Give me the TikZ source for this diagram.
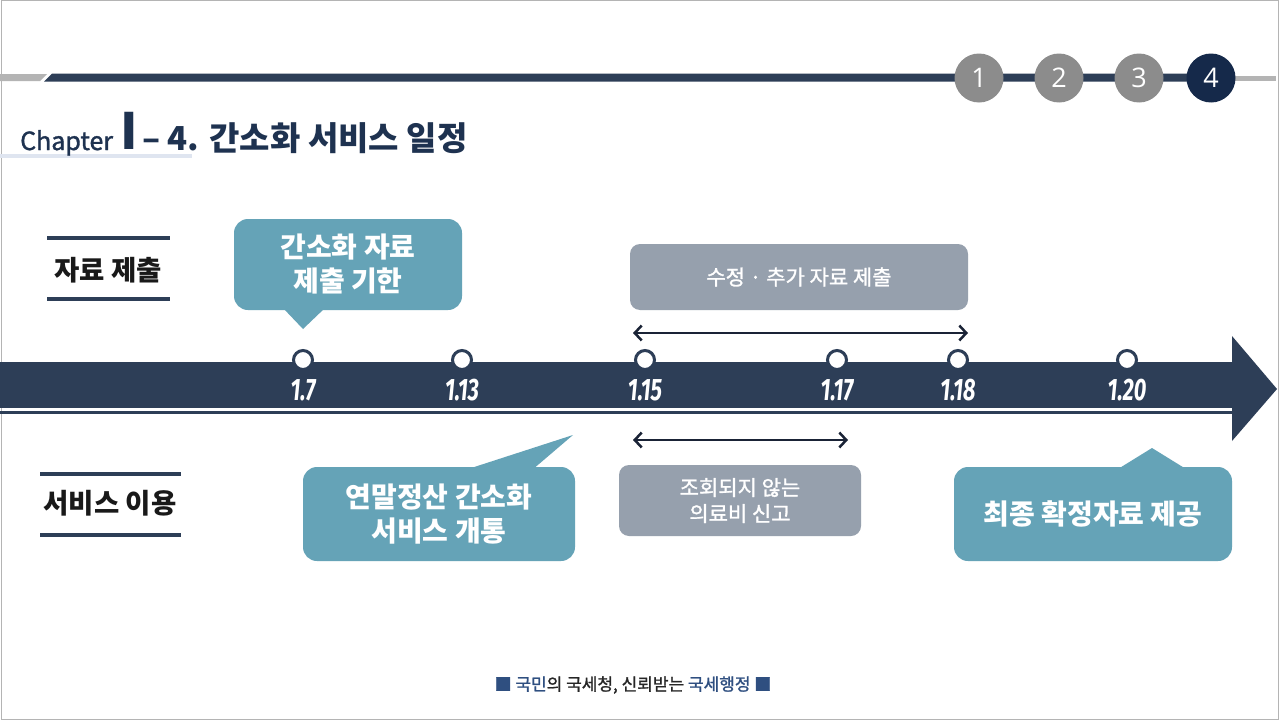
\documentclass[tikz,border=0pt]{standalone}
\usepackage{fontspec}
\setmainfont{Noto Sans CJK KR}
\newfontfamily\krfont{Noto Sans CJK KR}
\newfontfamily\krmed{Noto Sans CJK KR}[FakeBold=1.3]
\newfontfamily\numfont{Open Sans}
\newfontfamily\datefont{Fira Sans}
\usetikzlibrary{arrows.meta}
\definecolor{navy}{HTML}{1E3250}
\definecolor{barnavy}{HTML}{2D3E57}
\definecolor{darknavy}{HTML}{15294A}
\definecolor{teal}{HTML}{65A3B7}
\definecolor{boxgrey}{HTML}{96A0AD}
\definecolor{circgrey}{HTML}{8C8C8C}
\definecolor{framegrey}{HTML}{B4B4B4}
\definecolor{underl}{HTML}{DFE5F0}
\definecolor{footblue}{HTML}{2F4F80}
\definecolor{arrnavy}{HTML}{1A2336}
\tikzset{
  stepcirc/.style={circle, minimum size=49pt, inner sep=0pt, text=white, font=\numfont\fontsize{27}{27}\selectfont},
  sidelabel/.style={font=\krfont\bfseries\fontsize{27.5}{30}\selectfont, text=black!90, inner sep=0pt},
  sideline/.style={draw=barnavy, line width=4pt},
  callout/.style={fill=teal, rounded corners=14pt, text=white, align=center, inner sep=0pt, font=\krfont\bfseries\fontsize{28}{34}\selectfont},
  greybox/.style={fill=boxgrey, rounded corners=10pt, text=white, align=center, inner sep=0pt, font=\krmed\fontsize{21}{26}\selectfont},
  dot/.style={circle, draw=barnavy, fill=white, line width=3pt, minimum size=19pt, inner sep=0pt},
  datelabel/.style={text=white, inner sep=0pt, font=\datefont\bfseries\itshape\fontsize{31}{31}\selectfont},
  span/.style={draw=arrnavy, line width=2.5pt, {Straight Barb[length=7pt,width=15pt]}-{Straight Barb[length=7pt,width=15pt]}}
}
\newcommand{\dlab}[1]{\scalebox{0.7}[1]{#1}}
\begin{document}
\begin{tikzpicture}[x=1pt,y=-1pt]
\useasboundingbox (0,0) rectangle (1280,720);
\fill[white] (0,0) rectangle (1280,720);
\draw[framegrey, line width=1.5pt] (1.5,0.5) rectangle (1278.5,719.5);
% top rule
\fill[framegrey] (0,74) -- (47,74) -- (40,81) -- (0,81) -- cycle;
\fill[barnavy] (52,73.5) -- (1215,73.5) -- (1215,81.5) -- (44,81.5) -- cycle;
\fill[framegrey] (1215,75.5) rectangle (1276,81);
\node[stepcirc, fill=circgrey] (s1) at (979,78) {1};
\node[stepcirc, fill=circgrey] (s2) at (1059,78) {2};
\node[stepcirc, fill=circgrey] (s3) at (1139,78) {3};
\node[stepcirc, fill=darknavy] (s4) at (1211,78) {4};
% title
\fill[underl] (0,154) rectangle (192,158);
\node[anchor=base west, inner sep=0pt, text=navy, font=\krmed\fontsize{25}{25}\selectfont] (chap) at (20,150) {Chapter};
\node[anchor=base west, inner sep=0pt, text=navy, font=\krfont\bfseries\fontsize{50}{50}\selectfont] (roman) at (120,149) {I};
\node[anchor=base west, inner sep=0pt, text=navy, font=\krfont\bfseries\fontsize{33}{33}\selectfont] (title) at (142,150) {– 4. 간소화 서비스 일정};
% side labels
\node[sidelabel] (lab1) at (108,270) {자료 제출};
\draw[sideline] (47,238) -- (170,238);
\draw[sideline] (47,299) -- (170,299);
\node[sidelabel] (lab2) at (110,503) {서비스 이용};
\draw[sideline] (40,474) -- (181,474);
\draw[sideline] (40,535) -- (181,535);
% timeline
\fill[barnavy] (0,362) rectangle (1233,407.5);
\fill[barnavy] (0,411) rectangle (1233,414);
\fill[barnavy] (1232,336) -- (1277,389) -- (1232,441) -- cycle;
\foreach \n/\x/\t in {a/303/1.7, b/462/1.13, c/645/1.15, d/837/1.17, e/958/1.18, f/1127/1.20}{
  \node[dot] (d\n) at (\x,360) {};
  \node[datelabel] (t\n) at (\x,390) {\dlab{\t}};
}
% upper elements
\node[callout, minimum width=228pt, minimum height=91pt] (c1) at (348,264.5) {간소화 자료\\제출 기한};
\fill[teal] (283,308) -- (303,329) -- (325,308) -- cycle;
\node[greybox, minimum width=338pt, minimum height=66pt] (g1) at (799,277) {수정 · 추가 자료 제출};
\coordinate (u1) at (633,333);
\coordinate (u2) at (968,333);
\draw[span] (u1) -- (u2);
% lower elements
\coordinate (l1) at (633,440);
\coordinate (l2) at (848,440);
\draw[span] (l1) -- (l2);
\node[greybox, minimum width=242pt, minimum height=71pt] (g2) at (740,500.5) {조회되지 않는\\의료비 신고};
\node[callout, minimum width=272pt, minimum height=94pt] (c2) at (439,514) {연말정산 간소화\\서비스 개통};
\fill[teal] (465,470) -- (573,435) -- (532,470) -- cycle;
\node[callout, minimum width=278pt, minimum height=94pt] (c3) at (1093,514) {최종 확정자료 제공};
\fill[teal] (1118,469) -- (1152,448) -- (1186,469) -- cycle;
% footer
\node[inner sep=0pt, font=\krmed\fontsize{17}{17}\selectfont, text=black!85] (foot) at (633,685) {\textcolor{footblue}{■} \textcolor{footblue}{국민}의 국세청, 신뢰받는 \textcolor{footblue}{국세행정} \textcolor{footblue}{■}};
\end{tikzpicture}
\end{document}
